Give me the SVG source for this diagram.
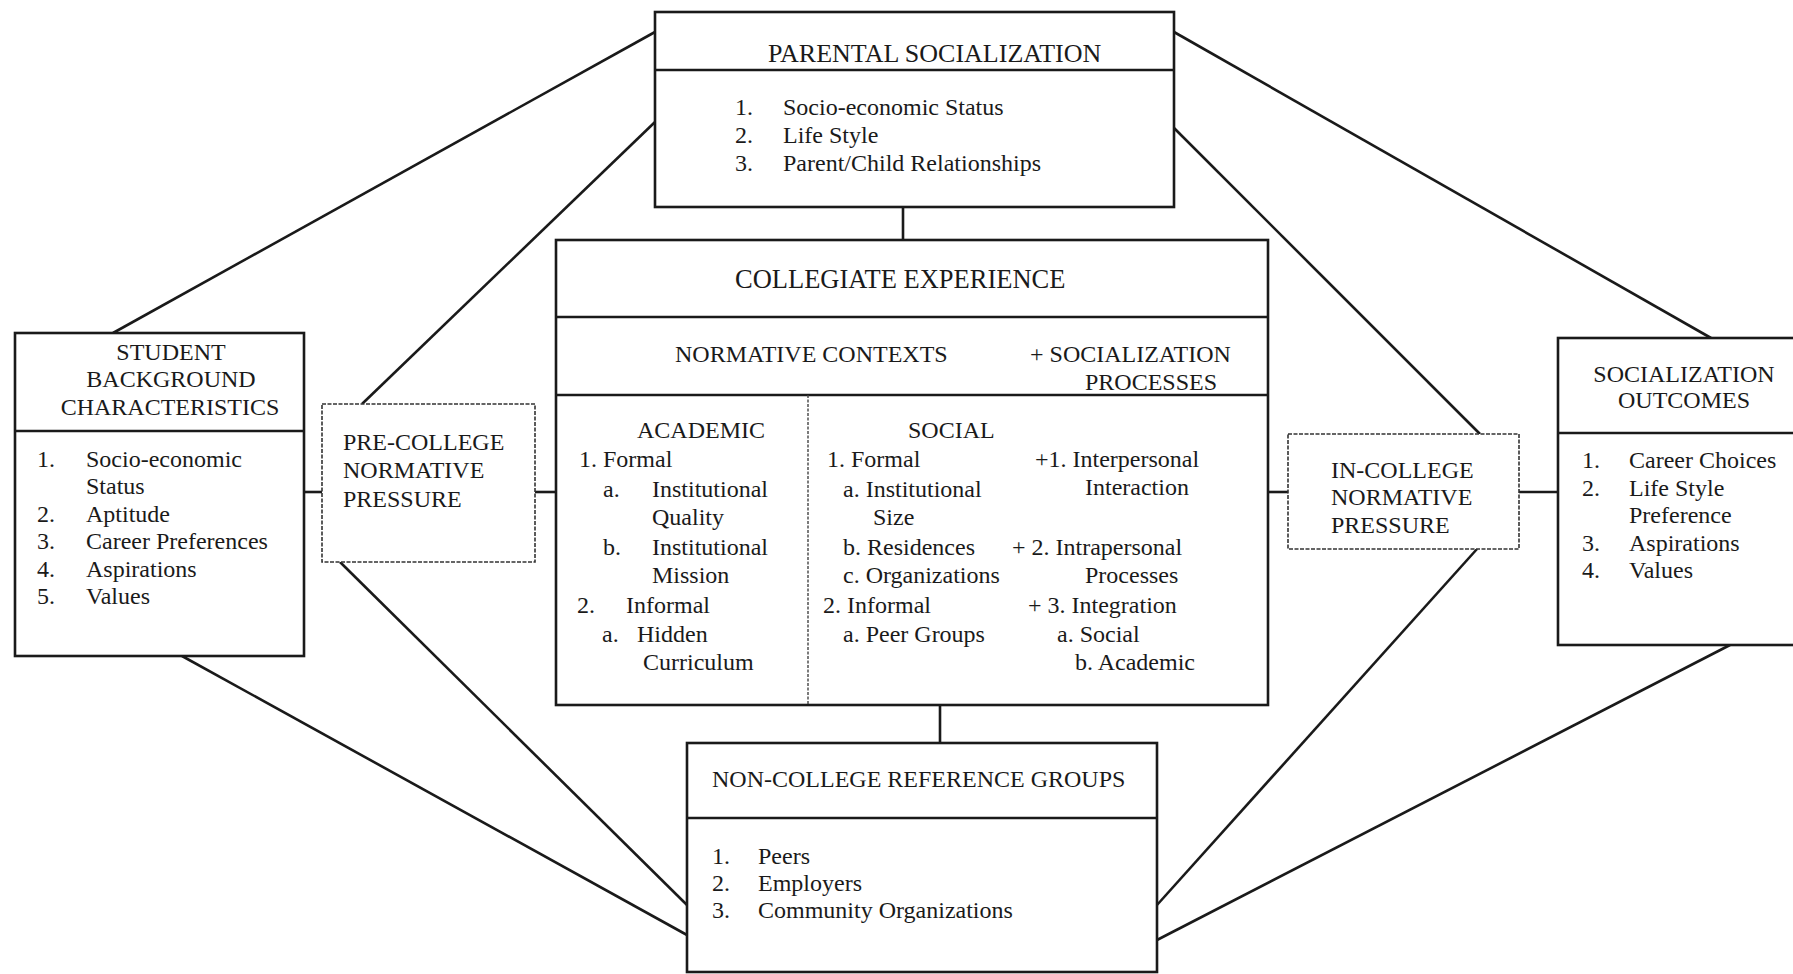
<svg xmlns="http://www.w3.org/2000/svg" width="1793" height="974" viewBox="0 0 1793 974">
<style>
.box{fill:#fff;stroke:#1a1a1a;stroke-width:2.6}
.dbox{fill:#fff;stroke:#333;stroke-width:1.6;stroke-dasharray:4 1.5}
.div{stroke:#1a1a1a;stroke-width:2.6;fill:none}
.vdiv{stroke:#444;stroke-width:1.4;stroke-dasharray:3 1.5;fill:none}
.con line{stroke:#1a1a1a;stroke-width:2.6;fill:none}
text{font-family:"Liberation Serif","Times New Roman",serif;fill:#1a1a1a;font-size:24px}
.t26{font-size:26px}
.mid{text-anchor:middle}
</style>
<rect width="1793" height="974" fill="#fff"/>
<g id="connectors" class="con">
<line x1="113" y1="333" x2="655" y2="32"/>
<line x1="362" y1="404" x2="655" y2="122"/>
<line x1="1711" y1="338" x2="1174" y2="32"/>
<line x1="1480" y1="434" x2="1174" y2="128"/>
<line x1="903" y1="207" x2="903" y2="240"/>
<line x1="304" y1="492" x2="322" y2="492"/>
<line x1="535" y1="492" x2="556" y2="492"/>
<line x1="1268" y1="492" x2="1288" y2="492"/>
<line x1="1519" y1="492" x2="1558" y2="492"/>
<line x1="940" y1="705" x2="940" y2="743"/>
<line x1="182" y1="656" x2="687" y2="935"/>
<line x1="340" y1="562" x2="687" y2="905"/>
<line x1="1477" y1="549" x2="1157" y2="905"/>
<line x1="1730" y1="645" x2="1157" y2="940"/>
</g>
<g id="parental">
<rect class="box" x="655" y="12" width="519" height="195"/>
<line class="div" x1="655" y1="70" x2="1174" y2="70"/>
<text class="t26" x="768" y="62">PARENTAL SOCIALIZATION</text>
<text x="735" y="115">1.</text><text x="783" y="115">Socio-economic Status</text>
<text x="735" y="143">2.</text><text x="783" y="143">Life Style</text>
<text x="735" y="171">3.</text><text x="783" y="171">Parent/Child Relationships</text>
</g>
<g id="student">
<rect class="box" x="15" y="333" width="289" height="323"/>
<line class="div" x1="15" y1="431" x2="304" y2="431"/>
<text class="mid" x="171" y="360">STUDENT</text>
<text class="mid" x="171" y="387">BACKGROUND</text>
<text class="mid" x="170" y="415">CHARACTERISTICS</text>
<text x="37" y="467">1.</text><text x="86" y="467">Socio-economic</text>
<text x="86" y="494">Status</text>
<text x="37" y="522">2.</text><text x="86" y="522">Aptitude</text>
<text x="37" y="549">3.</text><text x="86" y="549">Career Preferences</text>
<text x="37" y="577">4.</text><text x="86" y="577">Aspirations</text>
<text x="37" y="604">5.</text><text x="86" y="604">Values</text>
</g>
<g id="precollege">
<rect class="dbox" x="322" y="404" width="213" height="158"/>
<text x="343" y="450">PRE-COLLEGE</text>
<text x="343" y="478">NORMATIVE</text>
<text x="343" y="507">PRESSURE</text>
</g>
<g id="collegiate">
<rect class="box" x="556" y="240" width="712" height="465"/>
<line class="div" x1="556" y1="317" x2="1268" y2="317"/>
<line class="div" x1="556" y1="395" x2="1268" y2="395"/>
<line class="vdiv" x1="808" y1="395" x2="808" y2="705"/>
<text x="735" y="288" style="font-size:26.5px">COLLEGIATE EXPERIENCE</text>
<text x="675" y="362">NORMATIVE CONTEXTS</text>
<text x="1030" y="362">+ SOCIALIZATION</text>
<text x="1085" y="390">PROCESSES</text>
<text x="637" y="438">ACADEMIC</text>
<text x="579" y="467">1. Formal</text>
<text x="603" y="497">a.</text><text x="652" y="497">Institutional</text>
<text x="652" y="525">Quality</text>
<text x="603" y="555">b.</text><text x="652" y="555">Institutional</text>
<text x="652" y="583">Mission</text>
<text x="577" y="613">2.</text><text x="626" y="613">Informal</text>
<text x="602" y="642">a.</text><text x="637" y="642">Hidden</text>
<text x="643" y="670">Curriculum</text>
<text x="908" y="438">SOCIAL</text>
<text x="827" y="467">1. Formal</text>
<text x="843" y="497">a. Institutional</text>
<text x="873" y="525">Size</text>
<text x="843" y="555">b. Residences</text>
<text x="843" y="583">c. Organizations</text>
<text x="823" y="613">2. Informal</text>
<text x="843" y="642">a. Peer Groups</text>
<text x="1035" y="467">+1. Interpersonal</text>
<text x="1085" y="495">Interaction</text>
<text x="1012" y="555">+ 2. Intrapersonal</text>
<text x="1085" y="583">Processes</text>
<text x="1028" y="613">+ 3. Integration</text>
<text x="1057" y="642">a. Social</text>
<text x="1075" y="670">b. Academic</text>
</g>
<g id="incollege">
<rect class="dbox" x="1288" y="434" width="231" height="115"/>
<text x="1331" y="478">IN-COLLEGE</text>
<text x="1331" y="505">NORMATIVE</text>
<text x="1331" y="533">PRESSURE</text>
</g>
<g id="outcomes">
<rect class="box" x="1558" y="338" width="250" height="307"/>
<line class="div" x1="1558" y1="433" x2="1800" y2="433"/>
<text class="mid" x="1684" y="382">SOCIALIZATION</text>
<text class="mid" x="1684" y="408">OUTCOMES</text>
<text x="1582" y="468">1.</text><text x="1629" y="468">Career Choices</text>
<text x="1582" y="496">2.</text><text x="1629" y="496">Life Style</text>
<text x="1629" y="523">Preference</text>
<text x="1582" y="551">3.</text><text x="1629" y="551">Aspirations</text>
<text x="1582" y="578">4.</text><text x="1629" y="578">Values</text>
</g>
<g id="noncollege">
<rect class="box" x="687" y="743" width="470" height="229"/>
<line class="div" x1="687" y1="818" x2="1157" y2="818"/>
<text x="712" y="787">NON-COLLEGE REFERENCE GROUPS</text>
<text x="712" y="864">1.</text><text x="758" y="864">Peers</text>
<text x="712" y="891">2.</text><text x="758" y="891">Employers</text>
<text x="712" y="918">3.</text><text x="758" y="918">Community Organizations</text>
</g>
</svg>
